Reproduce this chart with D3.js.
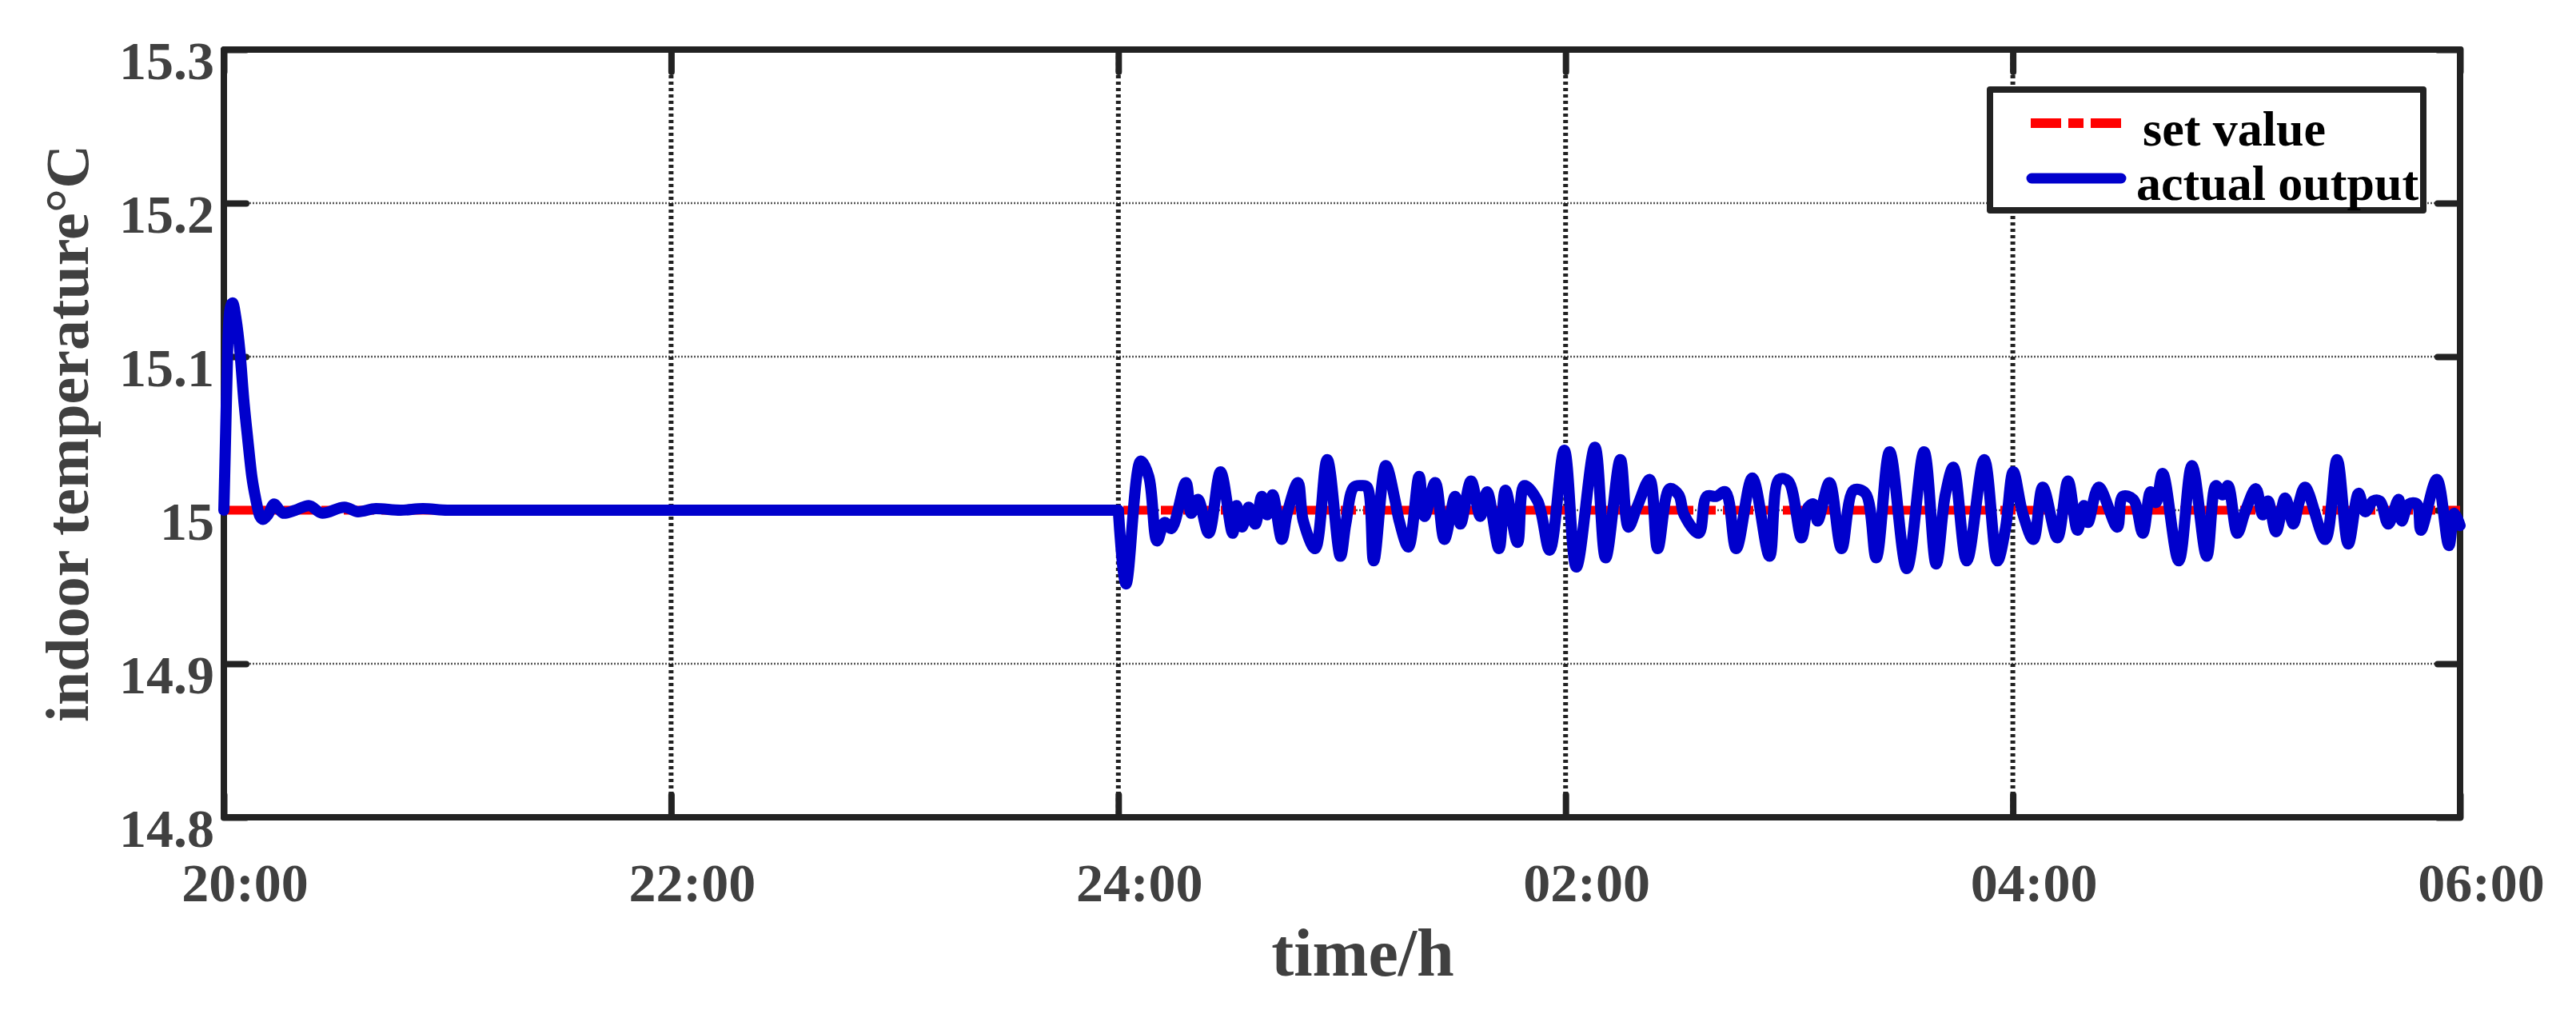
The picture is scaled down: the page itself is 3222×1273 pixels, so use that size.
<!DOCTYPE html>
<html><head><meta charset="utf-8">
<script src="https://cdn.jsdelivr.net/npm/d3@7"></script>
<style>body{margin:0;background:#fff}</style>
</head><body>
<svg id="chart" width="3222" height="1273"></svg>
<script>
// ---- data ----
const xTickHours = [0, 2, 4, 6, 8, 10];
const xTickLabels = ["20:00", "22:00", "24:00", "02:00", "04:00", "06:00"];
const yTickValues = [14.8, 14.9, 15.0, 15.1, 15.2, 15.3];
const yTickLabels = ["14.8", "14.9", "15", "15.1", "15.2", "15.3"];
const seriesNames = ["set value", "actual output"];

const setHours = [0, 10];
const setTemp = [15, 15];

// start-up transient (hours after 20:00)
const startupHours = [0, 0.008, 0.018, 0.029, 0.039, 0.054, 0.072, 0.089, 0.107, 0.125, 0.143, 0.161, 0.175, 0.197, 0.225, 0.25, 0.268, 0.32, 0.38, 0.44, 0.54, 0.6, 0.68, 0.79, 0.89, 1.0];
const startupTemp = [15.0, 15.05, 15.11, 15.132, 15.135, 15.125, 15.103, 15.072, 15.046, 15.022, 15.007, 14.996, 14.994, 14.997, 15.004, 15.0, 14.998, 15.0, 15.003, 14.998, 15.002, 14.999, 15.001, 15.0, 15.001, 15.0];

// disturbance period from 24:00 to 06:00
const disturbHours = [4.0, 4.034, 4.100, 4.136, 4.173, 4.207, 4.237, 4.302, 4.326, 4.356, 4.404, 4.457, 4.511, 4.529, 4.553, 4.583, 4.612, 4.642, 4.666, 4.690, 4.731, 4.755, 4.803, 4.827, 4.880, 4.934, 4.993, 5.017, 5.053, 5.089, 5.113, 5.142, 5.196, 5.238, 5.256, 5.297, 5.345, 5.369, 5.417, 5.458, 5.506, 5.530, 5.577, 5.619, 5.649, 5.702, 5.731, 5.785, 5.815, 5.875, 5.929, 5.994, 6.048, 6.131, 6.179, 6.245, 6.281, 6.322, 6.376, 6.412, 6.465, 6.506, 6.530, 6.596, 6.631, 6.674, 6.715, 6.763, 6.835, 6.912, 6.954, 6.996, 7.055, 7.085, 7.109, 7.127, 7.180, 7.234, 7.288, 7.341, 7.389, 7.449, 7.526, 7.603, 7.657, 7.698, 7.734, 7.794, 7.872, 7.931, 7.967, 8.002, 8.044, 8.092, 8.134, 8.199, 8.247, 8.289, 8.318, 8.336, 8.384, 8.467, 8.491, 8.539, 8.581, 8.616, 8.640, 8.670, 8.742, 8.801, 8.867, 8.908, 8.938, 8.962, 9.004, 9.039, 9.087, 9.117, 9.141, 9.177, 9.218, 9.254, 9.278, 9.307, 9.397, 9.450, 9.500, 9.546, 9.576, 9.611, 9.641, 9.679, 9.725, 9.739, 9.771, 9.807, 9.825, 9.896, 9.950, 9.974, 10.0];
const disturbTemp = [15.0, 14.952, 15.032, 15.022, 14.980, 14.992, 14.988, 15.018, 14.998, 15.007, 14.985, 15.025, 14.985, 15.003, 14.989, 15.002, 14.991, 15.009, 14.997, 15.010, 14.981, 14.998, 15.018, 14.993, 14.975, 15.033, 14.970, 14.991, 15.015, 15.016, 15.015, 14.967, 15.029, 15.006, 14.993, 14.976, 15.022, 14.996, 15.018, 14.981, 15.009, 14.991, 15.019, 14.996, 15.012, 14.975, 15.013, 14.979, 15.016, 15.006, 14.974, 15.039, 14.963, 15.041, 14.969, 15.033, 14.989, 15.003, 15.020, 14.975, 15.014, 15.010, 14.997, 14.985, 15.009, 15.009, 15.012, 14.975, 15.021, 14.970, 15.020, 15.019, 14.982, 15.002, 15.004, 14.993, 15.018, 14.975, 15.013, 15.011, 14.969, 15.038, 14.962, 15.038, 14.965, 15.010, 15.028, 14.967, 15.033, 14.967, 14.988, 15.025, 14.998, 14.981, 15.015, 14.982, 15.019, 14.987, 15.003, 14.992, 15.015, 14.989, 15.009, 15.007, 14.985, 15.012, 15.005, 15.024, 14.967, 15.029, 14.970, 15.016, 15.010, 15.016, 14.985, 14.999, 15.014, 14.997, 15.006, 14.986, 15.008, 14.991, 15.004, 15.015, 14.981, 15.033, 14.978, 15.011, 14.999, 15.006, 15.006, 14.991, 15.007, 14.993, 15.004, 15.004, 14.987, 15.020, 14.977, 14.998, 14.990];

// ---- layout ----
const L = 280, R = 3077, T = 62, B = 1022;
const svg = d3.select("#chart");
const x = d3.scaleLinear().domain([0, 10]).range([L, R]);
const y = d3.scaleLinear().domain([14.8, 15.3]).range([B, T]);
const FONT = "'Liberation Serif', 'Times New Roman', serif";
const AX = "#222222", TXT = "#404040";

// grid
const g = svg.append("g");
g.selectAll("line.hg").data(yTickValues.filter(v => v > 14.85 && v < 15.25)).join("line")
  .attr("x1", L).attr("x2", R).attr("y1", d => y(d)).attr("y2", d => y(d))
  .attr("stroke", "#555").attr("stroke-width", 2.5).attr("stroke-dasharray", "2,2");
g.selectAll("line.vg").data(xTickHours.filter(v => v > 0 && v < 10)).join("line")
  .attr("x1", d => x(d)).attr("x2", d => x(d)).attr("y1", T).attr("y2", B)
  .attr("stroke", AX).attr("stroke-width", 6).attr("stroke-dasharray", "4,4");

// axes (inward ticks on all sides)
function styleAxis(sel) {
  sel.select(".domain").remove();
  sel.selectAll(".tick line").attr("stroke", AX).attr("stroke-width", 8).attr("stroke-linecap", "round");
  sel.selectAll("text").attr("fill", TXT).attr("font-family", FONT).attr("font-weight", "bold").attr("font-size", 68);
}
const yL = svg.append("g").attr("transform", `translate(${L},0)`)
  .call(d3.axisLeft(y).tickValues(yTickValues).tickFormat((d, i) => yTickLabels[i]).tickSizeInner(-28).tickSizeOuter(0).tickPadding(12));
styleAxis(yL);
yL.selectAll("text").attr("dy", "0.53em");

const yR = svg.append("g").attr("transform", `translate(${R},0)`)
  .call(d3.axisRight(y).tickValues(yTickValues).tickFormat("").tickSizeInner(-28).tickSizeOuter(0));
styleAxis(yR);

const xB = svg.append("g").attr("transform", `translate(0,${B})`)
  .call(d3.axisBottom(x).tickValues(xTickHours).tickFormat((d, i) => xTickLabels[i]).tickSizeInner(-28).tickSizeOuter(0).tickPadding(0));
styleAxis(xB);
xB.selectAll("text").attr("y", 105).attr("dy", null).attr("dx", 26);

const xT = svg.append("g").attr("transform", `translate(0,${T})`)
  .call(d3.axisTop(x).tickValues(xTickHours).tickFormat("").tickSizeInner(-28).tickSizeOuter(0));
styleAxis(xT);

// frame
svg.append("rect").attr("x", L).attr("y", T).attr("width", R - L).attr("height", B - T)
  .attr("fill", "none").attr("stroke", AX).attr("stroke-width", 8).attr("stroke-linejoin", "round");

// series
const setData = setHours.map((h, i) => [h, setTemp[i]]);
const startupData = startupHours.map((h, i) => [h, startupTemp[i]]);
const disturbData = disturbHours.map((h, i) => [h, disturbTemp[i]]);

const line = d3.line().x(d => x(d[0])).y(d => y(d[1]));
svg.append("path").datum(setData).attr("d", line)
  .attr("fill", "none").attr("stroke", "#ff0000").attr("stroke-width", 11).attr("stroke-dasharray", "38,9,19,9");

const blue = { fill: "none", stroke: "#0000cc", "stroke-width": 14, "stroke-linejoin": "round", "stroke-linecap": "round" };
function styleBlue(p) { Object.entries(blue).forEach(([k, v]) => p.attr(k, v)); }
// start-up + flat part up to 24:00
svg.append("path").datum(startupData.concat([[disturbHours[0], disturbTemp[0]]]))
  .attr("d", line.curve(d3.curveMonotoneX)).call(styleBlue);
// disturbance part
svg.append("path").datum(disturbData)
  .attr("d", d3.line().x(d => x(d[0])).y(d => y(d[1])).curve(d3.curveCatmullRom.alpha(0.5))).call(styleBlue);

// axis titles
svg.append("text").attr("x", (L + R) / 2 + 26).attr("y", 1220).attr("text-anchor", "middle")
  .attr("font-family", FONT).attr("font-weight", "bold").attr("font-size", 84).attr("fill", TXT)
  .text("time/h");
svg.append("text").attr("transform", `translate(110,${(T + B) / 2}) rotate(-90)`).attr("text-anchor", "middle")
  .attr("font-family", FONT).attr("font-weight", "bold").attr("font-size", 76).attr("fill", TXT)
  .text("indoor temperature°C");

// legend
const lg = svg.append("g");
lg.append("rect").attr("x", 2489).attr("y", 112).attr("width", 542).attr("height", 151)
  .attr("fill", "#fff").attr("stroke", AX).attr("stroke-width", 8).attr("stroke-linejoin", "round");
lg.append("line").attr("x1", 2540).attr("x2", 2654).attr("y1", 154).attr("y2", 154)
  .attr("stroke", "#ff0000").attr("stroke-width", 12).attr("stroke-dasharray", "38,9,19,9");
lg.append("line").attr("x1", 2541).attr("x2", 2653).attr("y1", 223).attr("y2", 223)
  .attr("stroke", "#0000cc").attr("stroke-width", 13).attr("stroke-linecap", "round");
lg.append("text").attr("x", 2680).attr("y", 182).attr("font-family", FONT).attr("font-weight", "bold")
  .attr("font-size", 62).attr("fill", "#000").text(seriesNames[0]);
lg.append("text").attr("x", 2672).attr("y", 250).attr("font-family", FONT).attr("font-weight", "bold")
  .attr("font-size", 62).attr("fill", "#000").text(seriesNames[1]);
</script>
</body></html>
